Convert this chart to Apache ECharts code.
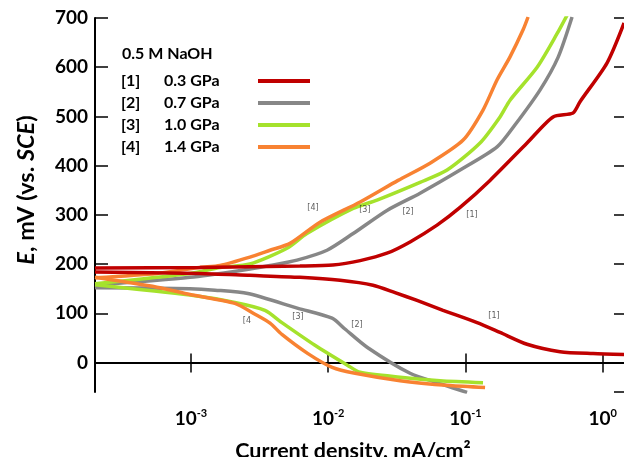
<!DOCTYPE html>
<html><head><meta charset="utf-8">
<script src="https://cdn.jsdelivr.net/npm/echarts@6/dist/echarts.min.js"></script>
<style>html,body{margin:0;padding:0;background:#fff}#c{width:624px;height:457px}</style>
</head><body><div id="c"></div>
<script>
// ---- data: [current density (mA/cm2), E (mV vs SCE)] ----
const names = ['0.3 GPa', '0.7 GPa', '1.0 GPa', '1.4 GPa'];
const tags = ['[1]', '[2]', '[3]', '[4]'];
const colors = ['#C00000', '#878787', '#A5E22C', '#F88232'];

const anodic_03 = [[2.0e-4,192],[1.16e-3,193],[6.22e-3,196],[0.0108,198],[0.0171,207],[0.0268,222],[0.0395,245],[0.0621,279],[0.0914,315],[0.151,370],[0.281,446],[0.435,499],[0.608,507],[0.684,530],[1.077,609],[1.432,690]];
const cathodic_03 = [[2.0e-4,184],[1.16e-3,181],[2.69e-3,177],[6.22e-3,173],[0.0122,167],[0.0212,157],[0.0307,142],[0.0444,126],[0.0687,106],[0.1216,81],[0.1786,61],[0.281,37],[0.489,22],[0.851,18],[1.432,16]];

const anodic_07 = [[2.0e-4,157],[9.84e-4,173],[2.69e-3,190],[3.77e-3,197],[5.93e-3,208],[9.8e-3,228],[0.0152,262],[0.0268,309],[0.0467,344],[0.0914,391],[0.170,438],[0.230,483],[0.350,554],[0.473,620],[0.598,702]];
const cathodic_07 = [[2.0e-4,152],[9.84e-4,150],[1.50e-3,147],[2.60e-3,140],[6.03e-3,110],[0.01067,90],[0.01325,68],[0.0192,31],[0.0395,-22],[0.0653,-43],[0.1028,-61]];

const anodic_10 = [[2.0e-4,160],[9.84e-4,181],[1.63e-3,193],[2.69e-3,200],[5.01e-3,232],[7.0e-3,262],[0.0152,313],[0.0227,330],[0.0467,366],[0.0735,391],[0.1277,446],[0.1786,499],[0.2113,533],[0.333,600],[0.465,668],[0.551,706]];
const cathodic_10 = [[2.0e-4,158],[9.84e-4,137],[2.09e-3,122],[3.46e-3,106],[4.60e-3,81],[8.01e-3,35],[0.0139,-6],[0.0171,-20],[0.0334,-30],[0.0653,-37],[0.1343,-41]];

const anodic_14 = [[2.0e-4,172],[5.65e-4,181],[1.16e-3,193],[1.63e-3,197],[2.69e-3,214],[3.77e-3,228],[5.27e-3,242],[8.71e-3,285],[0.0171,326],[0.0323,370],[0.0552,405],[0.0962,452],[0.1343,513],[0.1698,574],[0.2113,621],[0.263,676],[0.286,702]];
const cathodic_14 = [[2.0e-4,173],[5.65e-4,153],[9.84e-4,138],[2.09e-3,120],[2.93e-3,98],[3.77e-3,80],[4.60e-3,57],[7.12e-3,18],[0.0107,-10],[0.0157,-22],[0.0334,-37],[0.0773,-47],[0.139,-51]];

// curve tags placed on the plot: [current density, E, text]
const curveTags = [[7.75e-3,315,'[4]'],[0.0185,309,'[3]'],[0.0382,305,'[2]'],[0.1117,299,'[1]'],
                   [2.56e-3,85,'[4'],[6.03e-3,92,'[3]'],[0.0162,77,'[2]'],[0.1615,94,'[1]']];

const xMin = 2.0e-4, xMax = 1.454, yMin = -60, yMax = 700;
// -------------------------------------------------------------

const curves = [
  {i:1, a:anodic_07, c:cathodic_07},
  {i:2, a:anodic_10, c:cathodic_10},
  {i:3, a:anodic_14, c:cathodic_14},
  {i:0, a:anodic_03, c:cathodic_03}
];
const series = [];
curves.forEach(cv => {
  [cv.a, cv.c].forEach(d => series.push({
    type:'line', name:names[cv.i], data:d, showSymbol:false, smooth:0.25,
    color:colors[cv.i], lineStyle:{width:3.5, color:colors[cv.i]}, clip:true, z:2
  }));
});
series.push({
  type:'scatter', symbolSize:0, silent:true, z:5,
  data: curveTags.map(t => ({value:[t[0], t[1]], name:t[2]})),
  label:{show:true, position:'inside', formatter:'{b}', fontSize:8, fontFamily:'DejaVu Sans', color:'#333'}
});

const font = 'Lato';
const chart = echarts.init(document.getElementById('c'), null, {renderer:'canvas'});
const tickLabel = {fontFamily:font, fontWeight:'bold', fontSize:19, color:'#000'};
const legTok = {fontFamily:font, fontWeight:'bold', fontSize:16, color:'#000', align:'left'};
chart.setOption({
  animation:false,
  backgroundColor:'#fff',
  grid:{left:95, right:-1, top:18, bottom:65, containLabel:false, outerBoundsMode:'none'},
  title:{text:'0.5 M NaOH', left:122, top:46, padding:0,
         textStyle:{fontFamily:font, fontWeight:'bold', fontSize:16, color:'#000'}},
  legend:{
    data:names, orient:'vertical', left:116, top:66, align:'right',
    icon:'rect', itemWidth:52, itemHeight:4, itemGap:2, selectedMode:false,
    formatter: n => '{a|' + tags[names.indexOf(n)] + '}{b|' + n + '}',
    textStyle:{fontFamily:font, fontWeight:'bold', fontSize:16, color:'#000', lineHeight:20,
      rich:{a:Object.assign({width:43}, legTok), b:Object.assign({width:89}, legTok)}}
  },
  xAxis:[{
    type:'log', logBase:10, min:xMin, max:xMax, position:'bottom',
    name:'Current density, mA/cm²', nameLocation:'middle', nameGap:48,
    nameTextStyle:{fontFamily:font, fontWeight:'bold', fontSize:21.5, color:'#000', padding:[0,14,0,0]},
    axisLine:{show:true, lineStyle:{color:'#000', width:2}},
    axisTick:{show:true, inside:true, length:9, lineStyle:{color:'#000', width:1.5}},
    minorTick:{show:false}, splitLine:{show:false},
    axisLabel:{show:true, margin:16, showMinLabel:false, showMaxLabel:false,
      formatter: v => { const e = Math.log10(v); const r = Math.round(e);
        return Math.abs(e - r) < 1e-6 ? '{b|10}{s|' + r + '}' : ''; },
      rich:{b:{fontFamily:font, fontWeight:'bold', fontSize:19, color:'#000', lineHeight:22},
            s:{fontFamily:font, fontWeight:'bold', fontSize:11, color:'#000', verticalAlign:'top', lineHeight:22}}}
  },{
    type:'log', logBase:10, min:xMin, max:xMax, position:'top',
    axisLine:{show:true, lineStyle:{color:'#000', width:2}},
    axisTick:{show:true, inside:true, length:10, lineStyle:{color:'#000', width:1.5}},
    axisLabel:{show:false}, splitLine:{show:false}, minorTick:{show:false}
  }],
  yAxis:[{
    type:'value', min:yMin, max:yMax, splitNumber:8, position:'left',
    axisLine:{show:true, lineStyle:{color:'#000', width:2}},
    axisTick:{show:true, inside:true, length:13, lineStyle:{color:'#000', width:1.5}},
    splitLine:{show:false},
    axisLabel:{margin:7, showMinLabel:false, ...tickLabel,
      formatter: v => (v % 100 === 0 ? String(v) : '')}
  },{
    type:'value', min:yMin, max:yMax, splitNumber:8, position:'right',
    axisLine:{show:true, lineStyle:{color:'#000', width:2}},
    axisTick:{show:true, inside:true, length:11, lineStyle:{color:'#000', width:1.5}},
    splitLine:{show:false}, axisLabel:{show:false}
  }],
  graphic:[{
    type:'text', x:26, y:190, rotation:Math.PI/2,
    style:{text:'{i|E}{n|, mV (vs. }{i|SCE}{n|)}', align:'center', verticalAlign:'middle',
      rich:{i:{fontFamily:font, fontWeight:'bold', fontStyle:'italic', fontSize:23.5, fill:'#000'},
            n:{fontFamily:font, fontWeight:'bold', fontSize:23.5, fill:'#000'}}}
  }],
  series: series
});
</script></body></html>
